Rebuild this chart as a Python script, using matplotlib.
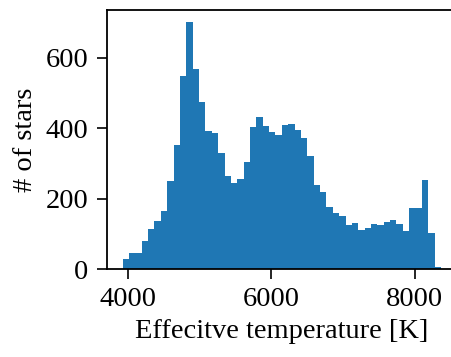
import numpy as np
import matplotlib
matplotlib.use("Agg")
import matplotlib.pyplot as plt

plt.rcParams["font.family"] = ["Liberation Serif", "DejaVu Serif"]

# histogram of effective temperature, 50 bins
t_min = 3925
t_max = 8365
counts = [29, 46, 46, 80, 114, 137, 165, 250, 353, 548,
          701, 568, 474, 392, 387, 330, 265, 245, 256, 304,
          403, 432, 407, 390, 381, 409, 412, 395, 372, 321,
          239, 219, 177, 160, 151, 126, 131, 111, 117, 128,
          126, 134, 140, 128, 109, 174, 174, 253, 103, 7]

edges = np.linspace(t_min, t_max, len(counts) + 1)
centers = (edges[:-1] + edges[1:]) / 2

fig = plt.figure(figsize=(4.52, 3.57), dpi=100)
ax = fig.add_axes([0.236, 0.2457, 0.775, 0.7271])
ax.hist(centers, bins=edges, weights=counts, color="#1f77b4")

ax.set_xticks([4000, 6000, 8000])
ax.set_yticks([0, 200, 400, 600])
ax.tick_params(labelsize=20.5, length=7, width=1.2, pad=6)
for s in ax.spines.values():
    s.set_linewidth(1.3)
# right edge of the frame falls outside the picture
ax.spines["right"].set_visible(False)
ax.set_xlabel("Effecitve temperature [K]", fontsize=20.5, labelpad=5)
ax.set_ylabel("# of stars", fontsize=20.5, labelpad=6)

fig.savefig("out.png", dpi=100)
